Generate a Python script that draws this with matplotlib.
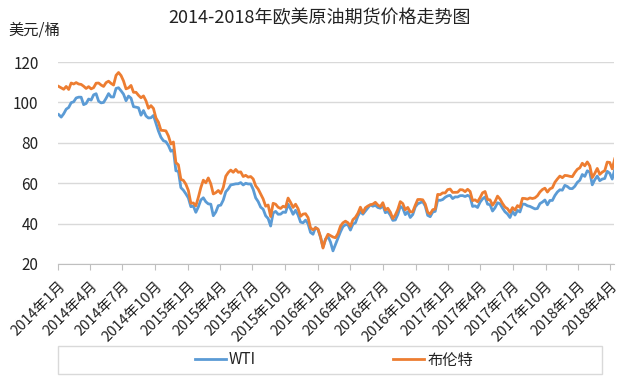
import matplotlib
matplotlib.use("Agg")
import matplotlib.pyplot as plt
from matplotlib.patches import Rectangle
import pandas as pd

plt.rcParams['font.family'] = ['Noto Sans CJK SC', 'DejaVu Sans']

title = "2014-2018年欧美原油期货价格走势图"
unit_label = "美元/桶"
series_names = ["WTI", "布伦特"]
start_date = "2014-01-03"   # weekly observations (Fridays)

wti = [
    # 2014
    93.96, 92.72, 94.37, 96.64, 97.49, 99.88, 100.30, 102.20, 102.59, 102.58,
    98.89, 99.46, 101.67, 101.14, 103.74, 104.30, 100.60, 99.76, 99.99, 102.02,
    104.35, 102.71, 102.66, 106.91, 107.26, 105.74, 104.06, 100.83, 103.13, 102.09,
    97.88, 97.65, 97.35, 93.65, 95.96, 93.29, 92.27, 92.41, 93.54, 89.74,
    85.82, 82.75, 81.01, 80.54, 78.65, 75.82, 76.51, 66.15, 65.84, 57.81,
    56.52, 54.73,
    # 2015
    52.69, 48.36, 48.69, 45.59, 48.24, 51.69, 52.78, 50.81, 49.76, 49.61,
    43.90, 45.72, 48.87, 49.14, 51.64, 55.74, 57.15, 59.15, 59.39, 59.69,
    59.72, 60.30, 59.13, 59.96, 59.61, 59.63, 56.93, 52.74, 50.89, 48.14,
    47.12, 43.87, 42.50, 38.80, 45.22, 46.05, 44.63, 44.68, 45.70, 45.54,
    49.63, 47.26, 44.60, 46.59, 44.29, 40.74, 40.39, 41.71, 39.97, 35.62,
    34.73, 38.10, 37.04,
    # 2016
    33.16, 28.40, 32.19, 33.62, 30.89, 26.50, 29.64, 32.78, 35.92, 38.50,
    39.44, 39.46, 36.79, 39.72, 40.36, 43.73, 45.92, 44.66, 46.21, 47.75,
    49.33, 48.62, 49.07, 47.98, 47.64, 48.99, 45.41, 45.95, 44.19, 41.60,
    41.80, 44.49, 48.52, 47.64, 44.44, 45.88, 43.03, 44.48, 48.24, 49.81,
    50.35, 50.85, 48.70, 44.07, 43.41, 45.69, 46.06, 51.68, 51.50, 51.90,
    53.02, 53.72,
    # 2017
    53.99, 52.37, 53.22, 53.17, 53.83, 53.86, 53.40, 53.99, 53.33, 48.49,
    48.78, 47.97, 50.60, 52.24, 53.18, 49.62, 49.33, 46.22, 47.84, 50.33,
    49.80, 47.66, 45.83, 44.74, 43.01, 46.04, 44.23, 46.54, 45.77, 49.71,
    49.58, 48.82, 48.51, 47.87, 47.29, 47.48, 49.89, 50.66, 51.67, 49.29,
    51.45, 51.47, 53.90, 55.64, 56.74, 56.55, 58.95, 58.36, 57.36, 57.30,
    58.47, 60.42,
    # 2018
    61.44, 64.30, 63.37, 66.14, 65.45, 59.20, 61.68, 63.55, 61.25, 62.04,
    62.34, 65.88, 64.94, 62.06, 66.82,
]

brent = [
    # 2014
    107.9, 107.2, 106.5, 107.9, 106.4, 109.6, 109.1, 109.8, 109.1, 108.9,
    108.0, 106.9, 107.8, 106.7, 107.3, 109.5, 109.6, 108.6, 107.9, 109.8,
    110.5, 109.4, 108.6, 113.4, 114.8, 113.3, 110.6, 106.7, 107.2, 108.4,
    105.0, 105.0, 103.5, 102.3, 103.2, 100.8, 97.1, 98.4, 97.0, 92.3,
    90.2, 86.2, 86.1, 85.9, 83.4, 79.4, 80.4, 70.2, 69.1, 61.9,
    61.4, 59.5,
    # 2015
    56.4, 50.1, 50.2, 48.8, 52.99, 57.8, 61.5, 60.2, 62.6, 59.7,
    54.7, 55.3, 56.4, 54.95, 57.9, 63.45, 65.3, 66.5, 65.4, 66.8,
    65.4, 65.6, 63.3, 63.9, 63.0, 63.3, 62.1, 58.7, 57.1, 54.6,
    52.2, 48.6, 49.2, 43.5, 50.05, 49.6, 48.1, 47.5, 48.6, 48.1,
    52.65, 50.5, 48.0, 49.6, 47.4, 43.6, 44.7, 44.9, 43.0, 37.9,
    36.9, 37.9, 37.3,
    # 2016
    33.55, 27.90, 32.18, 34.74, 34.06, 33.36, 33.01, 35.10, 38.72, 40.39,
    41.20, 40.44, 38.67, 41.94, 43.10, 45.11, 48.13, 45.37, 47.83, 48.72,
    49.32, 49.64, 50.54, 49.17, 48.41, 50.35, 46.76, 47.61, 45.69, 42.46,
    44.27, 46.97, 50.88, 49.92, 46.83, 48.01, 45.77, 45.89, 49.06, 51.93,
    51.95, 51.78, 49.71, 45.58, 44.75, 46.86, 47.24, 54.46, 54.33, 55.21,
    55.16, 56.82,
    # 2017
    57.10, 55.45, 55.49, 55.52, 56.81, 56.70, 55.81, 56.99, 55.90, 51.37,
    51.76, 50.80, 52.83, 55.24, 55.89, 51.96, 51.73, 49.10, 50.84, 53.61,
    52.15, 49.95, 48.15, 47.37, 45.54, 47.92, 46.71, 48.91, 48.06, 52.52,
    52.42, 52.10, 52.72, 52.41, 52.75, 53.78, 55.62, 56.86, 57.54, 55.62,
    57.17, 57.75, 60.44, 62.07, 63.52, 62.72, 63.86, 63.73, 63.40, 63.23,
    65.25, 66.87,
    # 2018
    67.62, 69.87, 68.61, 70.52, 68.58, 62.79, 64.84, 67.31, 64.37, 65.49,
    66.21, 70.45, 70.27, 67.11, 72.06,
]

yticks = [20, 40, 60, 80, 100, 120]
tick_dates = pd.date_range("2014-01-01", "2018-04-01", freq="QS")
tick_labels = [f"{d.year}年{d.month}月" for d in tick_dates]

dates = pd.date_range(start_date, periods=len(wti), freq="W-FRI")

W, H = 634, 379
fig = plt.figure(figsize=(W / 100, H / 100), dpi=100)
ax = fig.add_axes([58 / W, 1 - 264 / H, (614 - 58) / W, (264 - 62) / H])

blue = "#5B9BD5"
orange = "#ED7D31"
ax.plot(dates, wti, color=blue, lw=2.0, label=series_names[0], zorder=3)
ax.plot(dates, brent, color=orange, lw=2.0, label=series_names[1], zorder=4)

ax.set_ylim(20, 120)
ax.set_yticks(yticks)
ax.set_xlim(pd.Timestamp("2014-01-01"), pd.Timestamp("2018-04-11"))
ax.set_xticks(tick_dates)
ax.set_xticklabels(tick_labels, rotation=45, ha="right", rotation_mode="anchor",
                   fontsize=10.5, color="#222222")
ax.tick_params(axis="x", length=4, color="#BFBFBF", pad=7)
ax.tick_params(axis="y", length=0, pad=14, labelsize=11, labelcolor="#222222")
ax.grid(axis="y", color="#D9D9D9", lw=1)
for s in ["top", "right", "left"]:
    ax.spines[s].set_visible(False)
ax.spines["bottom"].set_color("#BFBFBF")
ax.set_axisbelow(True)

fig.text(320 / W, 1 - 18 / H, title, ha="center", va="center", fontsize=13, color="#222222")
fig.text(8 / W, 1 - 30 / H, unit_label, ha="left", va="center", fontsize=11, color="#222222")

rect = Rectangle((58 / W, 1 - 374 / H), (602 - 58) / W, (374 - 346) / H,
                 transform=fig.transFigure, fill=False, edgecolor="#D9D9D9", lw=1)
fig.patches.append(rect)
leg = fig.legend(loc="center", bbox_to_anchor=(334 / W, 1 - 360 / H), ncol=2,
                 frameon=False, fontsize=11, handlelength=2.0, handletextpad=0.2,
                 columnspacing=9.0)
for t in leg.get_texts():
    t.set_color("#222222")

fig.savefig("out.png", dpi=100)
